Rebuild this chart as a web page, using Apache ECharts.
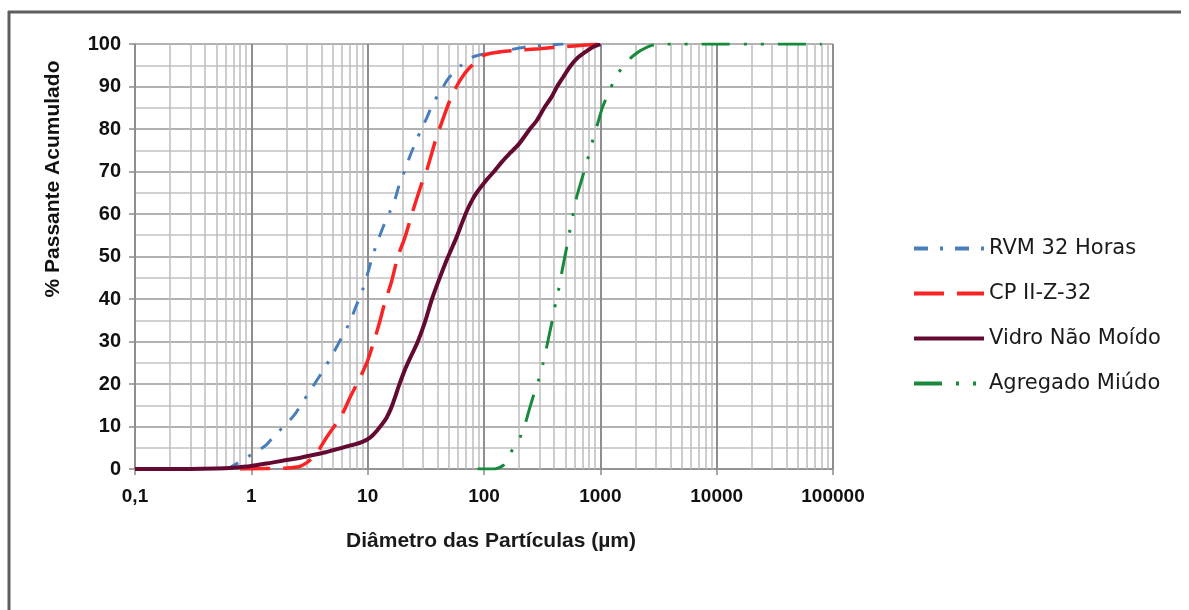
<!DOCTYPE html>
<html>
<head>
<meta charset="utf-8">
<script src="https://cdn.jsdelivr.net/npm/echarts@6/dist/echarts.min.js"></script>
<style>
  html, body { margin: 0; padding: 0; background: #fff; }
  #chart { width: 1189px; height: 610px; }
</style>
</head>
<body>
<div id="chart"></div>
<script>
// Particle size distribution: cumulative % passing vs. particle diameter (µm)
const seriesNames = ['RVM 32 Horas', 'CP II-Z-32', 'Vidro Não Moído', 'Agregado Miúdo'];

const rvmDiam = [0.6, 0.65, 0.8, 1, 1.2, 1.36, 1.6, 2, 2.4, 2.7, 3.3, 4, 5, 6, 7, 8, 9, 10, 11, 12, 13.6, 15.5, 17.2, 18.5, 21, 23, 25.6, 29, 32.3, 36.7, 43, 49.5, 62, 81, 127, 217, 330, 480];
const rvmPass = [0, 0.3, 1.7, 3.4, 4.7, 5.8, 8, 10.6, 13.1, 15.3, 19, 22.5, 27, 31, 34.5, 38.5, 42, 46, 50, 53, 57, 60.5, 63.5, 66.5, 70.4, 73.5, 76.6, 80, 82.7, 86.2, 89.2, 91.9, 94.7, 97, 98, 99.2, 99.7, 100];

const cpDiam = [0.8, 1.5, 2, 2.6, 3, 3.3, 3.8, 4.4, 5, 5.4, 6.2, 7.1, 8.6, 10, 11.3, 12.5, 14, 16, 18.2, 20.9, 24, 29, 32.3, 38, 42, 51, 58, 68, 79, 92, 105, 140, 190, 300, 500, 800, 1000];
const cpPass = [0, 0.1, 0.2, 0.6, 1.5, 2.5, 4.5, 7.3, 9.5, 10.8, 13.5, 17, 21.5, 25.5, 30, 34, 39, 44, 50, 54.5, 60, 67, 70.4, 77, 80.5, 86.8, 90, 93, 95, 96.8, 97.6, 98.2, 98.5, 98.9, 99.4, 99.8, 100];

const vidroDiam = [0.1, 0.2, 0.3, 0.5, 0.7, 1, 1.5, 2, 2.6, 3, 4, 5, 6.2, 7, 8, 9, 10, 11, 12, 13, 14.5, 16, 17.5, 18.5, 21, 24, 27, 31, 35.7, 41, 47.5, 52, 58, 66, 72, 80, 86.5, 105, 122, 145, 167, 200, 248, 284, 330, 380, 425, 481, 560, 640, 715, 850, 1000];
const vidroPass = [0, 0, 0, 0.1, 0.3, 0.7, 1.5, 2.1, 2.6, 3.0, 3.7, 4.4, 5.1, 5.5, 5.9, 6.4, 7.0, 7.9, 9.0, 10.2, 12, 14.5, 17.5, 19.5, 23.5, 27, 30, 34.5, 40, 44.5, 49, 51.5, 54.5, 58.5, 61, 63.5, 65, 68, 70, 72.5, 74.3, 76.5, 80, 82, 85, 87.5, 90, 92.3, 95, 96.8, 97.8, 99.2, 100];

const agrDiam = [88, 124, 135, 147, 160, 172, 188, 204, 228, 248, 270, 296, 322, 344, 367, 390, 413, 440, 468, 500, 548, 590, 626, 690, 780, 869, 958, 1050, 1180, 1320, 1560, 1930, 2500, 3260, 80000];
const agrPass = [0, 0, 0.3, 0.9, 2.3, 4.1, 5.8, 7.4, 11, 14.5, 17.8, 21.1, 24.9, 28.4, 32.1, 35.5, 39.1, 42.5, 46.5, 50.5, 56.2, 60.5, 64, 68, 73, 77.8, 81.7, 85.3, 88.5, 91.5, 94.7, 97.3, 99.2, 100, 100];

// Axis ranges and ticks
const xMin = 0.1, xMax = 100000;
const yTicks = [0, 10, 20, 30, 40, 50, 60, 70, 80, 90, 100];
const xDecades = [0.1, 1, 10, 100, 1000, 10000];
const minorSteps = [2, 3, 4, 5, 6, 7, 8, 9];

const pairs = (xs, ys) => xs.map((x, i) => [x, ys[i]]);

// Minor vertical grid lines for each decade (2..9 × 10^n)
const minorGrid = [];
xDecades.forEach(d => minorSteps.forEach(m => minorGrid.push({ xAxis: +(d * m).toPrecision(2) })));

const boldFont = 'Liberation Sans, Arial, sans-serif';

const chart = echarts.init(document.getElementById('chart'), null, { renderer: 'canvas' });
chart.setOption({
  animation: false,
  backgroundColor: '#ffffff',
  grid: { left: 135, right: 356, top: 44, bottom: 141, containLabel: false },
  xAxis: {
    type: 'log',
    logBase: 10,
    min: xMin,
    max: xMax,
    axisLine: { show: true, lineStyle: { color: '#8c8c8c', width: 1.5 } },
    axisTick: { show: true, inside: false, length: 6, lineStyle: { color: '#8c8c8c', width: 1.5 } },
    axisLabel: {
      margin: 18,
      color: '#111',
      fontFamily: boldFont,
      fontWeight: 'bold',
      fontSize: 19,
      formatter: v => (v < 1 ? String(+v.toPrecision(1)).replace('.', ',') : String(Math.round(v)))
    },
    splitLine: { show: true, lineStyle: { color: '#8e8e8e', width: 2 } },
    minorTick: { show: false },
    minorSplitLine: { show: false }
  },
  yAxis: {
    type: 'value',
    min: yTicks[0],
    max: yTicks[yTicks.length - 1],
    interval: 10,
    axisLine: { show: true, lineStyle: { color: '#8c8c8c', width: 1.5 } },
    axisTick: { show: true, inside: false, length: 6, lineStyle: { color: '#8c8c8c', width: 1.5 } },
    axisLabel: {
      margin: 14,
      color: '#111',
      fontFamily: boldFont,
      fontWeight: 'bold',
      fontSize: 20
    },
    splitLine: { show: true, lineStyle: { color: '#b2b2b2', width: 2 } },
    minorTick: { show: false, splitNumber: 2 },
    minorSplitLine: { show: true, lineStyle: { color: '#c2c2c2', width: 1.5 } }
  },
  legend: {
    data: seriesNames,
    orient: 'vertical',
    left: 912,
    top: 238,
    padding: 0,
    itemWidth: 70,
    itemHeight: 20,
    itemGap: 24,
    selectedMode: false,
    itemStyle: { opacity: 0, borderWidth: 0 },
    lineStyle: { width: 4 },
    textStyle: { fontFamily: 'DejaVu Sans, Verdana, sans-serif', fontSize: 21, color: '#1a1a1a' }
  },
  graphic: [
    // chart-area frame (left and top edges)
    { type: 'line', silent: true, shape: { x1: 9, y1: 11, x2: 9, y2: 610 }, style: { stroke: '#5e5e5e', lineWidth: 3 } },
    { type: 'line', silent: true, shape: { x1: 8, y1: 12, x2: 1181, y2: 12 }, style: { stroke: '#5e5e5e', lineWidth: 3 } },
    {
      type: 'text', silent: true, x: 53, y: 179, rotation: Math.PI / 2,
      style: { text: '% Passante Acumulado', x: 0, y: 0, align: 'center', verticalAlign: 'middle',
        font: 'bold 21px Liberation Sans, Arial, sans-serif', fill: '#111' }
    },
    {
      type: 'text', silent: true, x: 491, y: 541,
      style: { text: 'Diâmetro das Partículas (µm)', x: 0, y: 0, align: 'center', verticalAlign: 'middle',
        font: 'bold 21px Liberation Sans, Arial, sans-serif', fill: '#1a1a1a' }
    }
  ],
  series: [
    {
      // minor log gridlines drawn through the x scale
      type: 'line',
      data: [],
      z: 1,
      silent: true,
      markLine: {
        silent: true,
        z: 1,
        symbol: ['none', 'none'],
        label: { show: false },
        lineStyle: { type: 'solid', color: '#bcbcbc', width: 1.5 },
        data: minorGrid
      }
    },
    {
      name: seriesNames[0], type: 'line', z: 4, showSymbol: false, symbol: 'none', smooth: 0.3,
      data: pairs(rvmDiam, rvmPass),
      lineStyle: { color: '#4a7ebb', width: 3, type: [14, 12, 3, 12] },
      itemStyle: { color: '#4a7ebb' }
    },
    {
      name: seriesNames[1], type: 'line', z: 5, showSymbol: false, symbol: 'none', smooth: 0.3,
      data: pairs(cpDiam, cpPass),
      lineStyle: { color: '#fa2424', width: 3.5, type: [30, 13] },
      itemStyle: { color: '#fa2424' }
    },
    {
      name: seriesNames[2], type: 'line', z: 6, showSymbol: false, symbol: 'none', smooth: 0.3,
      data: pairs(vidroDiam, vidroPass),
      lineStyle: { color: '#640a32', width: 4, type: 'solid' },
      itemStyle: { color: '#640a32' }
    },
    {
      name: seriesNames[3], type: 'line', z: 4, showSymbol: false, symbol: 'none', smooth: 0.3,
      data: pairs(agrDiam, agrPass),
      lineStyle: { color: '#178a3c', width: 3, type: [28, 14, 3, 14, 3, 14] },
      itemStyle: { color: '#178a3c' }
    }
  ]
});
</script>
</body>
</html>
